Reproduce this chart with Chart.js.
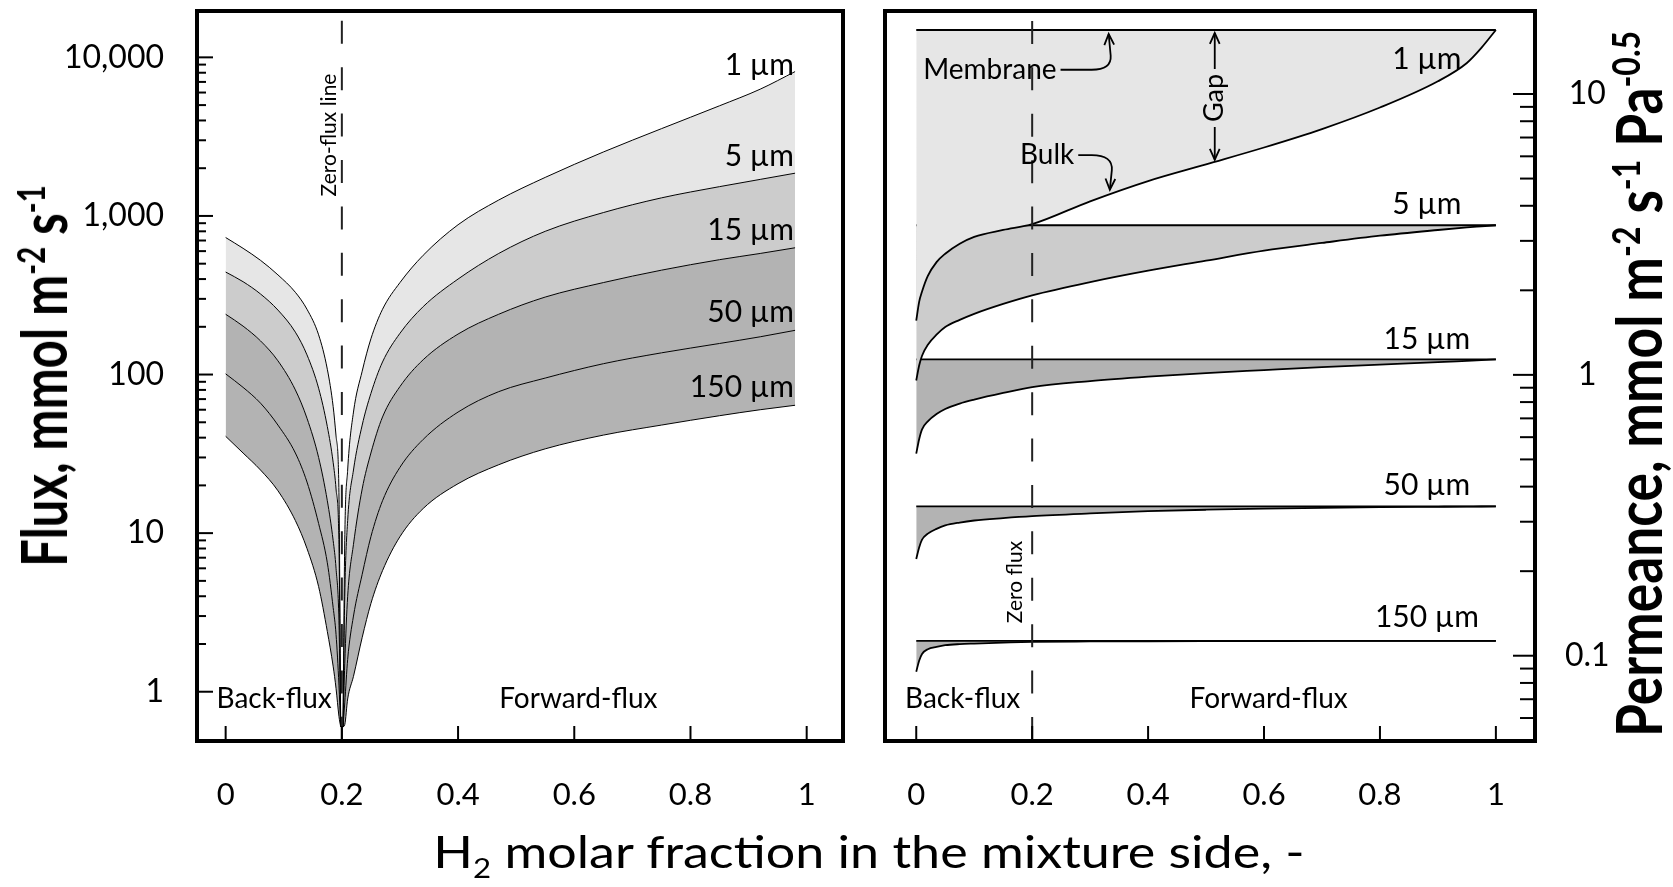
<!DOCTYPE html>
<html lang="en">
<head>
<meta charset="utf-8">
<title>H2 flux and permeance</title>
<script src="https://cdn.jsdelivr.net/npm/chart.js@4.4.1/dist/chart.umd.min.js"></script>
<style>
  html, body { margin: 0; padding: 0; background: #fff; }
  body { position: relative; width: 1673px; height: 887px; overflow: hidden; font-family: Lato, "Open Sans", sans-serif; color: #000; }
  canvas { position: absolute; top: 0; }
  #fluxChart { left: 0; }
  #permChart { left: 870px; }
  .axis-title { position: absolute; white-space: nowrap; line-height: 1; }
  .axis-title sup, .axis-title sub { font-size: 0.6em; line-height: 0; }
  #yTitleLeft { left: 43px; top: 376px; font-size: 64px; font-weight: 700; }
  #yTitleRight { left: 1638px; top: 384px; font-size: 64px; font-weight: 700; }
  #xTitle { left: 869px; top: 851px; font-size: 45px; }
</style>
</head>
<body>
<canvas id="fluxChart" width="870" height="887"></canvas>
<canvas id="permChart" width="803" height="887"></canvas>
<div class="axis-title" id="yTitleLeft" data-len="382" data-rot="-90">Flux, mmol m<sup>-2</sup> s<sup>-1</sup></div>
<div class="axis-title" id="yTitleRight" data-len="706" data-rot="-90">Permeance, mmol m<sup>-2</sup> s<sup>-1</sup> Pa<sup>-0.5</sup></div>
<div class="axis-title" id="xTitle" data-len="871" data-rot="0">H<sub>2</sub> molar fraction in the mixture side, -</div>
<script>
// ---- data ----
const thickness = ['1 µm', '5 µm', '15 µm', '50 µm', '150 µm'];

// left panel: flux (mmol m-2 s-1), absolute value, log axis; null = zero-flux point
const fluxX = [0, 0.03, 0.06, 0.09, 0.12, 0.14, 0.16, 0.175, 0.185, 0.19, 0.195, 0.198, 0.2,
  0.202, 0.205, 0.21, 0.22, 0.235, 0.25, 0.27, 0.3, 0.34, 0.4, 0.47, 0.55, 0.65, 0.75, 0.85, 0.92, 0.98];
const flux1um = [731, 625, 525, 425, 330, 258, 178, 108, 63, 41, 18, 0.6, null,
  0.6, 9, 25, 58, 105, 168, 258, 380, 565, 880, 1260, 1750, 2530, 3550, 4950, 6300, 8130];
const flux5um = [443, 385, 322, 255, 185, 133, 82, 47, 28, 19, 8.5, 0.6, null,
  0.6, 4, 12, 25, 48, 76, 120, 182, 268, 400, 580, 800, 1050, 1300, 1530, 1700, 1860];
const flux15um = [240, 202, 163, 122, 80, 53, 30, 16, 9, 6, 2.8, 0.6, null,
  0.6, 1.5, 4, 8.5, 19, 32, 54, 84, 124, 180, 240, 308, 380, 455, 530, 580, 630];
const flux50um = [101, 83, 66, 48, 32, 21, 11.5, 6.5, 3.4, 2.3, 1.1, 0.6, null,
  0.6, 0.85, 1.6, 3, 5.5, 9.5, 16, 26, 39, 58, 78, 95, 117, 137, 157, 173, 190];
const flux150um = [40.8, 32, 25, 18.5, 12, 8, 4.6, 2.4, 1.45, 1.05, 0.7, 0.6, null,
  0.6, 0.62, 0.9, 1.25, 2.2, 3.6, 5.8, 9.5, 14.3, 20.5, 27, 34, 41.5, 48, 55, 60, 64];

// right panel: permeance (mmol m-2 s-1 Pa-0.5)
const permX = [0, 0.005, 0.01, 0.02, 0.035, 0.05, 0.075, 0.1, 0.15, 0.2, 0.3, 0.4, 0.5, 0.6, 0.7, 0.8, 0.9, 0.95, 0.975, 1];
const bulk1um = [1.56, 1.82, 1.98, 2.25, 2.52, 2.70, 2.93, 3.10, 3.28, 3.44, 4.15, 4.9, 5.62, 6.45, 7.5, 8.95, 11.1, 12.9, 14.6, 16.9];
const bulk5um = [0.955, 1.08, 1.17, 1.28, 1.39, 1.48, 1.57, 1.65, 1.79, 1.92, 2.14, 2.35, 2.55, 2.77, 2.95, 3.13, 3.28, 3.35, 3.38, 3.41];
const bulk15um = [0.524, 0.59, 0.64, 0.683, 0.725, 0.756, 0.79, 0.816, 0.862, 0.905, 0.95, 0.985, 1.015, 1.04, 1.065, 1.088, 1.11, 1.122, 1.128, 1.135];
const bulk50um = [0.221, 0.243, 0.259, 0.272, 0.283, 0.291, 0.298, 0.303, 0.309, 0.314, 0.321, 0.327, 0.331, 0.334, 0.336, 0.338, 0.339, 0.3395, 0.3398, 0.340];
const bulk150um = [0.0877, 0.096, 0.1015, 0.1055, 0.1075, 0.109, 0.110, 0.1105, 0.1113, 0.112, 0.1124, 0.1126, 0.1127, 0.1128, 0.1129, 0.1129, 0.113, 0.113, 0.113, 0.113];
const membraneX = [0, 1];
const membranePerm = [16.9, 3.41, 1.135, 0.340, 0.113];

// zero-flux line
const zeroFluxX = 0.2;
const fluxZeroLineY = [17000, 0.45];
const permZeroLineY = [18.2, 0.045];

// ticks
const xTicks = [0, 0.2, 0.4, 0.6, 0.8, 1];
const xTickLabels = ['0', '0.2', '0.4', '0.6', '0.8', '1'];
const fluxMajor = [1, 10, 100, 1000, 10000];
const fluxMajorLabels = ['1', '10', '100', '1,000', '10,000'];
const permMajor = [0.1, 1, 10];
const permMajorLabels = ['0.1', '1', '10'];

const fluxBand = ['#e6e6e6', '#cccccc', '#b3b3b3', '#b3b3b3'];
const permBand = ['#e6e6e6', '#cccccc', '#b3b3b3', '#b3b3b3', '#b3b3b3'];

// ---- helpers ----
Chart.defaults.font.family = 'Lato';
Chart.defaults.color = '#000';

const xy = (xs, ys) => xs.map((x, i) => ({ x, y: ys[i] }));

function logTicks(min, max) {
  const out = [];
  for (let e = -2; e <= 4; e++) {
    for (let m = 1; m <= 9; m++) {
      const v = +(m * Math.pow(10, e)).toPrecision(3);
      if (v >= min && v <= max) out.push(v);
    }
  }
  return out;
}

function note(chart, text, x, y, o = {}) {
  const { ctx, scales } = chart;
  ctx.save();
  ctx.font = (o.size || 28) + 'px Lato';
  ctx.fillStyle = '#000';
  ctx.textAlign = o.align || 'center';
  ctx.textBaseline = 'middle';
  ctx.translate(scales.x.getPixelForValue(x), scales.y.getPixelForValue(y));
  if (o.rotate) ctx.rotate(o.rotate);
  ctx.fillText(text, 0, 0);
  ctx.restore();
}

function arrowHead(ctx, x, y, ang) {
  const s = 12, w = 0.42;
  ctx.beginPath();
  ctx.moveTo(x - s * Math.cos(ang - w), y - s * Math.sin(ang - w));
  ctx.lineTo(x, y);
  ctx.lineTo(x - s * Math.cos(ang + w), y - s * Math.sin(ang + w));
  ctx.stroke();
}

// box + inward ticks
const frame = {
  id: 'frame',
  afterDatasetsDraw(chart, args, opts) {
    const { ctx, chartArea: a, scales } = chart;
    ctx.save();
    ctx.strokeStyle = '#000';
    ctx.lineWidth = 2;
    scales.y.ticks.forEach(t => {
      const py = scales.y.getPixelForValue(t.value);
      const len = t.label ? opts.major : opts.minor;
      ctx.beginPath();
      if (opts.side === 'left') { ctx.moveTo(a.left, py); ctx.lineTo(a.left + len, py); }
      else { ctx.moveTo(a.right, py); ctx.lineTo(a.right - len, py); }
      ctx.stroke();
    });
    scales.x.ticks.forEach(t => {
      const px = scales.x.getPixelForValue(t.value);
      ctx.beginPath();
      ctx.moveTo(px, a.bottom);
      ctx.lineTo(px, a.bottom - opts.xLen);
      ctx.stroke();
    });
    ctx.lineWidth = 4;
    ctx.strokeRect(a.left, a.top, a.right - a.left, a.bottom - a.top);
    ctx.restore();
  }
};

function scalesFor(cfg) {
  return {
    x: {
      type: 'linear', min: cfg.xMin, max: cfg.xMax,
      grid: { display: false }, border: { display: false },
      afterBuildTicks: s => { s.ticks = xTicks.map(v => ({ value: v })); },
      afterFit: s => { s.height = 146; s.paddingLeft = 0; s.paddingRight = 0; },
      ticks: {
        autoSkip: false, maxRotation: 0, padding: 27, font: { size: 31 },
        callback: v => xTickLabels[xTicks.indexOf(v)] ?? ''
      }
    },
    y: {
      type: 'logarithmic', position: cfg.side, min: cfg.yMin, max: cfg.yMax,
      grid: { display: false }, border: { display: false },
      afterBuildTicks: s => { s.ticks = cfg.yTicks.map(v => ({ value: v })); },
      afterFit: s => { s.width = cfg.yWidth; s.paddingTop = 0; s.paddingBottom = 0; },
      ticks: {
        autoSkip: false, padding: cfg.yPad, crossAlign: cfg.side === 'right' ? 'center' : 'near',
        font: { size: 32 },
        callback: v => cfg.yLabels[cfg.yMajor.indexOf(v)] ?? ''
      }
    }
  };
}

const baseOptions = {
  responsive: false, animation: false, events: [],
  plugins: { legend: { display: false }, tooltip: { enabled: false } }
};

const zeroLineStyle = { borderColor: '#222', borderWidth: 2, borderDash: [23, 23.4], pointRadius: 0, fill: false };

// ---- left: flux ----
const fluxCurves = [flux1um, flux5um, flux15um, flux50um, flux150um];
const fluxSets = [Object.assign({ data: xy([zeroFluxX, zeroFluxX], fluxZeroLineY) }, zeroLineStyle)]
  .concat(fluxCurves.map((ys, i) => ({
    data: xy(fluxX, ys), borderColor: '#000', borderWidth: 1,
    pointRadius: 0, cubicInterpolationMode: 'monotone', spanGaps: false,
    fill: i === 0 ? false : '-1', backgroundColor: i === 0 ? 'transparent' : fluxBand[i - 1]
  })));

const fluxNotes = {
  id: 'fluxNotes',
  afterDatasetsDraw(chart) {
    const labelY = [8970, 2390, 817, 247, 83.6];
    thickness.forEach((t, i) => note(chart, t, 0.978, labelY[i], { align: 'right', size: 30 }));
    note(chart, 'Back-flux', 0.0835, 0.90);
    note(chart, 'Forward-flux', 0.607, 0.90);
    note(chart, 'Zero-flux line', 0.179, 3240, { size: 21, rotate: -Math.PI / 2 });
  }
};

new Chart(document.getElementById('fluxChart'), {
  type: 'line',
  data: { datasets: fluxSets },
  options: Object.assign({}, baseOptions, {
    layout: { padding: { top: 11, right: 27, left: 0, bottom: 0 } },
    plugins: Object.assign({}, baseOptions.plugins, { frame: { side: 'left', major: 16, minor: 9, xLen: 15 } }),
    scales: scalesFor({
      xMin: -0.0493, xMax: 1.0625, side: 'left', yMin: 0.489, yMax: 19600,
      yTicks: logTicks(1, 10000), yMajor: fluxMajor, yLabels: fluxMajorLabels, yWidth: 197, yPad: 25
    })
  }),
  plugins: [frame, fluxNotes]
});

// ---- right: permeance ----
const bulkCurves = [bulk1um, bulk5um, bulk15um, bulk50um, bulk150um];
const permSets = [Object.assign({ data: xy([zeroFluxX, zeroFluxX], permZeroLineY) }, zeroLineStyle)];
bulkCurves.forEach((ys, i) => {
  permSets.push({
    data: xy(membraneX, [membranePerm[i], membranePerm[i]]),
    borderColor: '#000', borderWidth: 1.8, pointRadius: 0, fill: false
  });
  permSets.push({
    data: xy(permX, ys), borderColor: '#000', borderWidth: 1.8,
    pointRadius: 0, cubicInterpolationMode: 'monotone',
    fill: '-1', backgroundColor: permBand[i]
  });
});

const permNotes = {
  id: 'permNotes',
  afterDatasetsDraw(chart) {
    const { ctx, scales } = chart;
    const X = v => scales.x.getPixelForValue(v), Y = v => scales.y.getPixelForValue(v);
    const labelY = [13.3, 4.06, 1.34, 0.405, 0.1374];
    thickness.forEach((t, i) => note(chart, t, 0.881, labelY[i], { size: 30 }));
    note(chart, 'Back-flux', 0.080, 0.0702);
    note(chart, 'Forward-flux', 0.608, 0.0702);
    note(chart, 'Zero flux', 0.171, 0.183, { size: 21, rotate: -Math.PI / 2 });
    note(chart, 'Membrane', 0.012, 12.2, { align: 'left' });
    note(chart, 'Bulk', 0.179, 6.06, { align: 'left' });

    ctx.save();
    ctx.strokeStyle = '#000';
    ctx.lineWidth = 1.8;
    ctx.font = '28px Lato';
    // Membrane arrow
    let tx = X(0.012) + ctx.measureText('Membrane').width + 4, ty = Y(12.2);
    let tipX = X(0.332), tipY = Y(membranePerm[0]) + 4;
    ctx.beginPath();
    ctx.moveTo(tx, ty); ctx.lineTo(tipX - 17, ty);
    ctx.quadraticCurveTo(tipX + 3, ty, tipX + 2, ty - 14);
    ctx.lineTo(tipX, tipY);
    ctx.stroke();
    arrowHead(ctx, tipX, tipY, -Math.PI / 2 - 0.05);
    // Bulk arrow
    tx = X(0.179) + ctx.measureText('Bulk').width + 4; ty = Y(6.06);
    tipX = X(0.334); tipY = Y(4.49) - 2;
    ctx.beginPath();
    ctx.moveTo(tx, ty); ctx.lineTo(tipX - 18, ty);
    ctx.quadraticCurveTo(tipX + 3, ty, tipX + 2, ty + 15);
    ctx.lineTo(tipX, tipY);
    ctx.stroke();
    arrowHead(ctx, tipX, tipY, Math.PI / 2 + 0.05);
    // Gap double arrow
    ctx.font = '27px Lato';
    const gx = X(0.515), gTop = Y(membranePerm[0]) + 3, gBot = Y(5.74) - 2, gc = Y(9.68);
    const hw = ctx.measureText('Gap').width / 2 + 5;
    ctx.beginPath();
    ctx.moveTo(gx, gTop); ctx.lineTo(gx, gc - hw);
    ctx.moveTo(gx, gc + hw); ctx.lineTo(gx, gBot);
    ctx.stroke();
    arrowHead(ctx, gx, gTop, -Math.PI / 2);
    arrowHead(ctx, gx, gBot, Math.PI / 2);
    ctx.restore();
    note(chart, 'Gap', 0.515, 9.68, { size: 27, rotate: -Math.PI / 2 });
  }
};

new Chart(document.getElementById('permChart'), {
  type: 'line',
  data: { datasets: permSets },
  options: Object.assign({}, baseOptions, {
    layout: { padding: { top: 11, right: 0, left: 15, bottom: 0 } },
    plugins: Object.assign({}, baseOptions.plugins, { frame: { side: 'right', major: 22, minor: 15, xLen: 15 } }),
    scales: scalesFor({
      xMin: -0.0539, xMax: 1.0675, side: 'right', yMin: 0.0497, yMax: 19.75,
      yTicks: logTicks(0.06, 10), yMajor: permMajor, yLabels: permMajorLabels, yWidth: 138, yPad: 22
    })
  }),
  plugins: [frame, permNotes]
});

// axis titles: fit each to the length it has in the figure
document.querySelectorAll('.axis-title').forEach(el => {
  const k = +el.dataset.len / el.offsetWidth;
  el.style.transform = `translate(-50%, -50%) rotate(${el.dataset.rot}deg) scaleX(${k})`;
});
</script>
</body>
</html>
